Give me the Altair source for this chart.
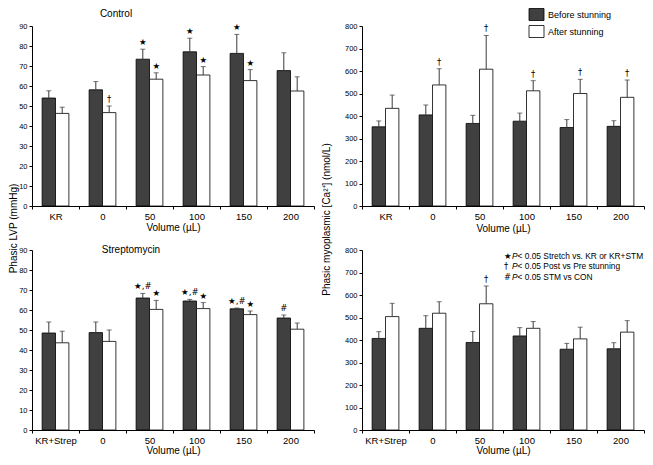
import altair as alt
import pandas as pd

# ---------------- data ----------------
phases = ["Before stunning", "After stunning"]
cats_con = ["KR", "0", "50", "100", "150", "200"]
cats_stm = ["KR+Strep", "0", "50", "100", "150", "200"]

# Phasic LVP (mmHg) - Control
lvp_con_before = [54.0, 58.1, 73.4, 77.1, 76.3, 67.7]
lvp_con_before_se = [3.6, 4.1, 5.0, 6.8, 9.5, 8.9]
lvp_con_after = [46.3, 46.7, 63.4, 65.5, 62.7, 57.5]
lvp_con_after_se = [3.1, 3.3, 3.2, 4.2, 5.5, 7.1]
lvp_con_sig_before = ["", "", "★", "★", "★", ""]
lvp_con_sig_after = ["", "†", "★", "★", "★", ""]

# Phasic myoplasmic Ca (nmol/L) - Control
ca_con_before = [352, 405, 367, 377, 349, 354]
ca_con_before_se = [26, 44, 36, 36, 35, 25]
ca_con_after = [434, 538, 608, 512, 500, 483]
ca_con_after_se = [59, 72, 150, 45, 63, 77]
ca_con_sig_before = ["", "", "", "", "", ""]
ca_con_sig_after = ["", "†", "†", "†", "†", "†"]

# Phasic LVP (mmHg) - Streptomycin
lvp_stm_before = [48.5, 48.7, 66.0, 64.5, 60.6, 56.0]
lvp_stm_before_se = [5.5, 5.3, 2.3, 0.8, 0.4, 1.5]
lvp_stm_after = [43.6, 44.3, 60.3, 60.7, 57.7, 50.4]
lvp_stm_after_se = [5.8, 5.7, 4.5, 3.0, 1.8, 3.1]
lvp_stm_sig_before = ["", "", "★,#", "★,#", "★,#", "#"]
lvp_stm_sig_after = ["", "", "★", "★", "★", ""]

# Phasic myoplasmic Ca (nmol/L) - Streptomycin
ca_stm_before = [407, 452, 389, 418, 359, 361]
ca_stm_before_se = [30, 56, 49, 37, 26, 27]
ca_stm_after = [504, 519, 561, 452, 405, 435]
ca_stm_after_se = [59, 51, 79, 30, 52, 51]
ca_stm_sig_before = ["", "", "", "", "", ""]
ca_stm_sig_after = ["", "", "†", "", "", ""]

note_symbols = ["★", "†", "#"]
note_p = ["P", "P", "P"]
note_texts = ["< 0.05 Stretch vs. KR or KR+STM",
              "< 0.05 Post vs Pre stunning",
              "< 0.05 STM vs CON"]

FONT = "Liberation Sans"
W, H = 282, 180


def make_df(cats, b, bse, a, ase, sb, sa):
    rows = []
    for i, c in enumerate(cats):
        rows.append(dict(cat=c, phase=phases[0], mean=b[i], top=b[i] + bse[i], sig=sb[i]))
        rows.append(dict(cat=c, phase=phases[1], mean=a[i], top=a[i] + ase[i], sig=sa[i]))
    return pd.DataFrame(rows)


def panel(cats, df, ymax, ystep, ytitle=None, ytitleY=None, ytitlePad=0,
          xtitlePad=1, legend=False, label=None, label_pos=None, notes=False):
    xaxis = alt.Axis(title="Volume (µL)", labelAngle=0, tickBand="extent", tickSize=3,
                     labelFontSize=9.5, labelPadding=2, titleFontSize=10,
                     titleFontWeight="normal", titlePadding=xtitlePad)
    x = alt.X("cat:N", sort=cats, scale=alt.Scale(domain=cats, paddingInner=0, paddingOuter=0),
              axis=xaxis)
    xo = alt.XOffset("phase:N", sort=phases,
                     scale=alt.Scale(domain=phases, paddingInner=0, paddingOuter=0.755))
    yaxis_kw = dict(values=list(range(0, ymax + 1, ystep)), tickSize=3, labelFontSize=7.5,
                    labelPadding=2)
    if ytitle:
        yaxis_kw.update(title=ytitle, titleY=ytitleY, titleFontSize=10,
                        titleFontWeight="normal", titlePadding=ytitlePad)
    else:
        yaxis_kw.update(title=None)
    yaxis = alt.Axis(**yaxis_kw)
    yscale = alt.Scale(domain=[0, ymax], nice=False)

    if legend:
        leg = alt.Legend(title=None, orient="none", legendX=168, legendY=-18,
                         direction="vertical", symbolType="M-1.25,-1H1.25V1H-1.25Z",
                         symbolSize=144, symbolStrokeColor="black", symbolStrokeWidth=0.8,
                         labelFontSize=9, labelFont=FONT, labelColor="black",
                         padding=0, rowPadding=0, labelOffset=5)
    else:
        leg = None

    base = alt.Chart(df)
    bars = base.mark_bar(stroke="black", strokeWidth=0.8).encode(
        x=x, xOffset=xo,
        y=alt.Y("mean:Q", scale=yscale, axis=yaxis),
        color=alt.Color("phase:N", sort=phases,
                        scale=alt.Scale(domain=phases, range=["#404040", "#ffffff"]),
                        legend=leg),
    )
    rule = base.mark_rule(color="#3a3a3a", strokeWidth=1).encode(
        x=x, xOffset=xo,
        y=alt.Y("mean:Q", scale=yscale, axis=yaxis), y2="top:Q")
    cap = base.mark_tick(color="#3a3a3a", thickness=1, size=5).encode(
        x=x, xOffset=xo, y=alt.Y("top:Q", scale=yscale, axis=yaxis))
    sig = base.mark_text(baseline="bottom", dy=-2, font="DejaVu Sans", fontSize=8.5,
                         color="black").encode(
        x=x, xOffset=xo, y=alt.Y("top:Q", scale=yscale, axis=yaxis), text="sig:N")
    layers = [bars, rule, cap, sig]
    one = pd.DataFrame({"k": [0]})
    if label:
        layers.append(alt.Chart(one).mark_text(font=FONT, fontSize=10, color="black",
                                               baseline="middle").encode(
            x=alt.value(label_pos[0]), y=alt.value(label_pos[1]), text=alt.value(label)))
    if notes:
        common = dict(align="left", baseline="top", fontSize=8.4, lineHeight=10.5,
                      color="black")
        layers.append(alt.Chart(one).mark_text(font="DejaVu Sans", **common).encode(
            x=alt.value(142), y=alt.value(1.5), text=alt.value(note_symbols)))
        layers.append(alt.Chart(one).mark_text(font=FONT, fontStyle="italic", **common).encode(
            x=alt.value(150), y=alt.value(1.5), text=alt.value(note_p)))
        layers.append(alt.Chart(one).mark_text(font=FONT, **common).encode(
            x=alt.value(155.5), y=alt.value(1.5), text=alt.value(note_texts)))
    return alt.layer(*layers).properties(width=W, height=H)


tl = panel(cats_con, make_df(cats_con, lvp_con_before, lvp_con_before_se, lvp_con_after,
                             lvp_con_after_se, lvp_con_sig_before, lvp_con_sig_after),
           90, 10, ytitle="Phasic LVP (mmHg)", ytitleY=202, ytitlePad=0, xtitlePad=2,
           label="Control", label_pos=(84, -12))
tr = panel(cats_con, make_df(cats_con, ca_con_before, ca_con_before_se, ca_con_after,
                             ca_con_after_se, ca_con_sig_before, ca_con_sig_after),
           800, 100, ytitle="Phasic myoplasmic [Ca²⁺] (nmol/L)", ytitleY=193, ytitlePad=13,
           xtitlePad=3, legend=True)
bl = panel(cats_stm, make_df(cats_stm, lvp_stm_before, lvp_stm_before_se, lvp_stm_after,
                             lvp_stm_after_se, lvp_stm_sig_before, lvp_stm_sig_after),
           90, 10, xtitlePad=1, label="Streptomycin", label_pos=(99, 0))
br = panel(cats_stm, make_df(cats_stm, ca_stm_before, ca_stm_before_se, ca_stm_after,
                             ca_stm_after_se, ca_stm_sig_before, ca_stm_sig_after),
           800, 100, xtitlePad=1, notes=True)

chart = alt.concat(tl, tr, bl, br, columns=2, spacing={"row": 44, "column": 48},
                   bounds="flush").resolve_scale(
    x="independent", y="independent", color="independent"
).properties(
    padding={"left": 0, "top": 0, "right": 0, "bottom": 0}
).configure_view(stroke=None).configure_axis(
    grid=False, labelFont=FONT, titleFont=FONT, labelColor="black", titleColor="black",
    domainColor="black", tickColor="black", domainWidth=1, tickWidth=1
)

chart.save("out.html", embed_options={"renderer": "svg", "actions": False})
